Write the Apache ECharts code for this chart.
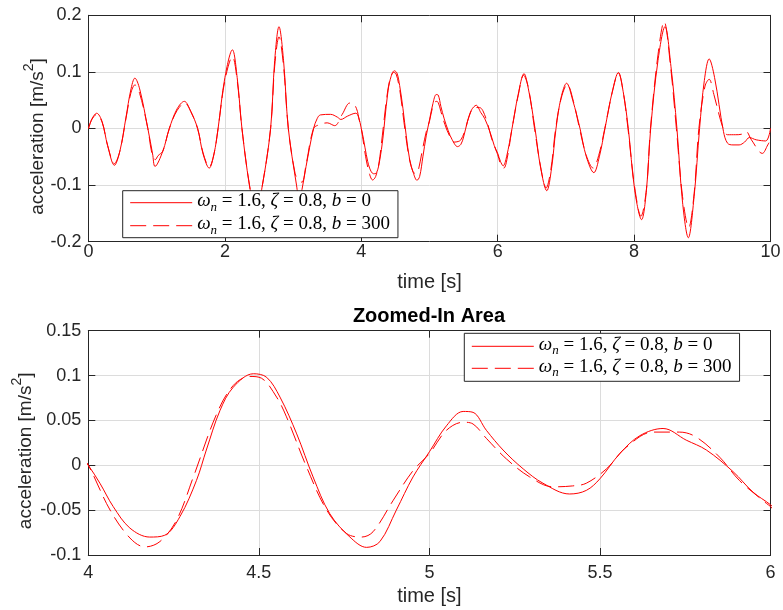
<!DOCTYPE html>
<html>
<head>
<meta charset="utf-8">
<script src="https://cdn.jsdelivr.net/npm/echarts@6/dist/echarts.min.js"></script>
<style>
  html, body { margin: 0; padding: 0; background: #ffffff; }
  #chart { width: 783px; height: 610px; }
</style>
</head>
<body>
<div id="chart"></div>
<script>
// Response without filter (b = 0): sample times [s] and acceleration [m/s^2]
const timeB0 = [
  0.00, 0.05, 0.12, 0.20, 0.28, 0.38, 0.46, 0.55, 0.62, 0.68, 0.75, 0.87, 0.94, 0.975, 1.09,
  1.185, 1.30, 1.405, 1.50, 1.60, 1.68, 1.77, 1.84, 1.90, 2.00, 2.11, 2.18, 2.25, 2.36, 2.455,
  2.55, 2.67, 2.73, 2.793, 2.86, 2.93, 3.05, 3.09, 3.13, 3.19, 3.30, 3.355, 3.40, 3.55, 3.65,
  3.70, 3.80, 3.92, 3.96, 4.00, 4.034, 4.073, 4.122, 4.18, 4.224, 4.269, 4.317, 4.346, 4.386,
  4.425, 4.484, 4.523, 4.562, 4.611, 4.659, 4.708, 4.767, 4.816, 4.855, 4.903, 4.952, 5.00,
  5.05, 5.099, 5.128, 5.167, 5.216, 5.275, 5.333, 5.411, 5.46, 5.50, 5.558, 5.617, 5.685,
  5.753, 5.812, 5.89, 5.949, 6.00, 6.04, 6.08, 6.13, 6.21, 6.30, 6.386, 6.45, 6.547, 6.63,
  6.72, 6.79, 6.855, 6.93, 7.01, 7.10, 7.207, 7.30, 7.41, 7.49, 7.573, 7.68, 7.77, 7.84,
  7.915, 8.01, 8.11, 8.18, 8.243, 8.35, 8.453, 8.54, 8.628, 8.71, 8.795, 8.88, 8.96, 9.03,
  9.10, 9.18, 9.31, 9.37, 9.45, 9.54, 9.62, 9.69, 9.79, 9.93, 10.00
];
const accB0 = [
  0, 0.017, 0.027, 0.012, -0.030, -0.065, -0.040, 0.020, 0.068, 0.089, 0.070, 0, -0.045, -0.067, -0.040,
  0, 0.035, 0.048, 0.030, 0, -0.045, -0.070, -0.045, 0, 0.090, 0.139, 0.090, 0, -0.100, -0.150,
  -0.100, 0, 0.120, 0.180, 0.120, 0, -0.100, -0.125, -0.108, -0.067, 0, 0.018, 0.024, 0.025, 0.020,
  0.016, 0.022, 0.027, 0.020, 0, -0.020, -0.046, -0.070, -0.080, -0.078, -0.057, -0.017, 0.017, 0.061,
  0.087, 0.102, 0.098, 0.076, 0.035, -0.013, -0.054, -0.080, -0.0915, -0.085, -0.050, -0.013, 0.015,
  0.044, 0.060, 0.059, 0.039, 0.017, -0.004, -0.020, -0.032, -0.028, -0.015, 0.013, 0.033, 0.041,
  0.028, 0.017, -0.007, -0.030, -0.044, -0.058, -0.066, -0.050, 0, 0.060, 0.097, 0.070, 0, -0.070,
  -0.110, -0.070, 0, 0.055, 0.080, 0.050, 0, -0.050, -0.078, -0.050, 0, 0.065, 0.099, 0.065,
  0, -0.110, -0.161, -0.110, 0, 0.120, 0.180, 0.110, 0, -0.130, -0.193, -0.120, 0, 0.085,
  0.123, 0.090, -0.005, -0.026, -0.029, -0.029, -0.024, -0.016, -0.020, -0.022, 0
];

// Response with filter (b = 300)
const timeB300 = [
  0.00, 0.05, 0.12, 0.20, 0.28, 0.38, 0.46, 0.55, 0.62, 0.68, 0.75, 0.87, 0.93, 0.98, 1.02, 1.09,
  1.185, 1.30, 1.41, 1.50, 1.60, 1.68, 1.77, 1.84, 1.90, 2.00, 2.11, 2.18, 2.25, 2.36, 2.455,
  2.55, 2.67, 2.73, 2.793, 2.86, 2.93, 3.03, 3.08, 3.13, 3.19, 3.30, 3.39, 3.50, 3.61, 3.72,
  3.83, 3.87, 3.93, 3.97, 4.00, 4.064, 4.122, 4.166, 4.21, 4.259, 4.308, 4.376, 4.425, 4.474,
  4.508, 4.552, 4.581, 4.64, 4.699, 4.757, 4.801, 4.835, 4.894, 4.952, 5.00, 5.05, 5.099,
  5.128, 5.167, 5.226, 5.294, 5.362, 5.42, 5.46, 5.519, 5.577, 5.655, 5.733, 5.782, 5.851,
  5.909, 5.988, 6.00, 6.04, 6.09, 6.14, 6.21, 6.30, 6.38, 6.45, 6.54, 6.63, 6.71, 6.78, 6.85,
  6.93, 7.02, 7.11, 7.20, 7.30, 7.40, 7.48, 7.57, 7.68, 7.77, 7.84, 7.91, 8.01, 8.10, 8.18,
  8.24, 8.35, 8.44, 8.53, 8.62, 8.71, 8.80, 8.88, 8.95, 9.04, 9.10, 9.17, 9.30, 9.37, 9.49,
  9.58, 9.64, 9.72, 9.88, 9.96, 10.00
];
const accB300 = [
  0, 0.016, 0.025, 0.011, -0.030, -0.062, -0.040, 0.018, 0.062, 0.077, 0.062, 0, -0.044, -0.055, -0.048, -0.040,
  0, 0.032, 0.045, 0.030, 0, -0.043, -0.068, -0.045, 0, 0.085, 0.127, 0.085, 0, -0.100, -0.150,
  -0.100, 0, 0.110, 0.162, 0.110, 0, -0.080, -0.090, -0.095, -0.064, 0, 0.007, 0.010, 0.005, 0.025,
  0.045, 0.045, 0.035, 0.015, 0, -0.050, -0.081, -0.091, -0.085, -0.061, -0.013, 0.057, 0.089, 0.099,
  0.097, 0.076, 0.054, -0.002, -0.050, -0.076, -0.080, -0.074, -0.039, -0.006, 0.013, 0.039, 0.048,
  0.046, 0.030, 0.007, -0.013, -0.024, -0.023, -0.020, -0.004, 0.020, 0.037, 0.037, 0.0315, 0.009,
  -0.017, -0.0425, -0.046, -0.062, -0.070, -0.052, 0, 0.058, 0.094, 0.072, 0, -0.068, -0.105, -0.072, 0,
  0.053, 0.078, 0.048, 0, -0.048, -0.070, -0.048, 0, 0.064, 0.098, 0.065, 0, -0.105, -0.155, -0.108,
  0, 0.130, 0.189, 0.115, 0, -0.120, -0.175, -0.115, 0, 0.075, 0.087, 0.060, 0.002, -0.011, -0.011,
  -0.010, -0.005, -0.020, -0.044, -0.029, -0.020
];

// Filter parameter shown in each legend entry
const seriesNames = ['b0', 'b300'];
const bValues = ['0', '300'];

// Axis ranges for the full record and the zoomed-in window
const fullRange = { xMin: 0, xMax: 10, xStep: 2, yMin: -0.2, yMax: 0.2, yStep: 0.1 };
const zoomRange = { xMin: 4, xMax: 6, xStep: 0.5, yMin: -0.1, yMax: 0.15, yStep: 0.05 };

const toPairs = (t, v) => t.map((x, i) => [x, v[i]]);
const dataB0 = toPairs(timeB0, accB0);
const dataB300 = toPairs(timeB300, accB300);

const AXIS_COLOR = '#262626';
const GRID_COLOR = '#dcdcdc';
const DASH = [16, 7];
const SANS = '"Liberation Sans", Arial, Helvetica, sans-serif';
const SERIF = '"Liberation Serif", "Times New Roman", serif';

// Math-style legend labels: italic symbols, lowered subscript
const legendRich = {
  i: { fontFamily: SERIF, fontStyle: 'italic', fontSize: 19, color: '#000', lineHeight: 15, verticalAlign: 'top' },
  r: { fontFamily: SERIF, fontSize: 19, color: '#000', lineHeight: 15, verticalAlign: 'top' },
  s: { fontFamily: SERIF, fontStyle: 'italic', fontSize: 13, color: '#000', lineHeight: 22, verticalAlign: 'bottom' }
};
const legendText = (name) => {
  const b = bValues[seriesNames.indexOf(name)];
  return '{i|ω}{s|n}{r| = 1.6, }{i|ζ}{r| = 0.8, }{i|b}{r| = ' + b + '}';
};

const yNameRich = {
  a: { fontFamily: SANS, fontSize: 19, color: AXIS_COLOR, lineHeight: 25, verticalAlign: 'bottom' },
  s: { fontFamily: SANS, fontSize: 14, color: AXIS_COLOR, verticalAlign: 'top' },
  e: { width: 16 }
};
const Y_NAME = '{a|acceleration [m/s}{s|2}{a|]}{e| }';

function mainX(idx, r, labelMargin, nameGap) {
  return {
    gridIndex: idx, type: 'value', position: 'bottom',
    min: r.xMin, max: r.xMax, interval: r.xStep,
    name: 'time [s]', nameLocation: 'middle', nameGap: nameGap,
    nameTextStyle: { fontFamily: SANS, fontSize: 20, color: AXIS_COLOR },
    axisLine: { show: true, onZero: false, lineStyle: { color: AXIS_COLOR, width: 1 } },
    axisTick: { show: true, inside: true, length: 7, lineStyle: { color: AXIS_COLOR } },
    axisLabel: { margin: labelMargin, fontFamily: SANS, fontSize: 18, color: AXIS_COLOR },
    splitLine: { show: true, lineStyle: { color: GRID_COLOR, width: 1 } }
  };
}
function boxX(idx, r) {
  return {
    gridIndex: idx, type: 'value', position: 'top',
    min: r.xMin, max: r.xMax, interval: r.xStep,
    axisLine: { show: true, onZero: false, lineStyle: { color: AXIS_COLOR, width: 1 } },
    axisTick: { show: true, inside: true, length: 7, lineStyle: { color: AXIS_COLOR } },
    axisLabel: { show: false }, splitLine: { show: false }
  };
}
function mainY(idx, r, nameGap) {
  return {
    gridIndex: idx, type: 'value', position: 'left',
    min: r.yMin, max: r.yMax, interval: r.yStep,
    name: Y_NAME, nameLocation: 'middle', nameGap: nameGap, nameMoveOverlap: false,
    nameTextStyle: { rich: yNameRich },
    axisLine: { show: true, onZero: false, lineStyle: { color: AXIS_COLOR, width: 1 } },
    axisTick: { show: true, inside: true, length: 7, lineStyle: { color: AXIS_COLOR } },
    axisLabel: { margin: 7, fontFamily: SANS, fontSize: 18, color: AXIS_COLOR },
    splitLine: { show: true, lineStyle: { color: GRID_COLOR, width: 1 } }
  };
}
function boxY(idx, r) {
  return {
    gridIndex: idx, type: 'value', position: 'right',
    min: r.yMin, max: r.yMax, interval: r.yStep,
    axisLine: { show: true, onZero: false, lineStyle: { color: AXIS_COLOR, width: 1 } },
    axisTick: { show: true, inside: true, length: 7, lineStyle: { color: AXIS_COLOR } },
    axisLabel: { show: false }, splitLine: { show: false }
  };
}
function lineSeries(name, data, xIdx, yIdx, dashed) {
  return {
    name: name, type: 'line', data: data,
    xAxisIndex: xIdx, yAxisIndex: yIdx,
    symbol: 'none', showSymbol: false, smooth: 0.35, clip: true,
    lineStyle: { color: '#ff0000', width: 1, type: dashed ? DASH : 'solid' },
    itemStyle: { color: '#ff0000' },
    emphasis: { disabled: true }
  };
}
function legendBox(left, top, gap, padding) {
  return {
    data: seriesNames, orient: 'vertical', left: left, top: top,
    itemWidth: 62, itemHeight: 14, itemGap: gap,
    padding: padding,
    backgroundColor: '#ffffff', borderColor: AXIS_COLOR, borderWidth: 1, borderRadius: 0,
    formatter: legendText,
    textStyle: { rich: legendRich },
    itemStyle: { color: 'rgba(0,0,0,0)', borderWidth: 0, opacity: 0 },
    lineStyle: { width: 1 },
    selectedMode: false
  };
}

const chart = echarts.init(document.getElementById('chart'), null, { renderer: 'canvas' });
chart.setOption({
  animation: false,
  backgroundColor: '#ffffff',
  grid: [
    { left: 88.5, right: 12.5, top: 15.3, height: 226.4, containLabel: false, outerBoundsMode: 'none' },
    { left: 88.3, right: 12.5, top: 330.7, height: 224.3, containLabel: false, outerBoundsMode: 'none' }
  ],
  xAxis: [
    mainX(0, fullRange, 1, 31), boxX(0, fullRange),
    mainX(1, zoomRange, 9, 31), boxX(1, zoomRange)
  ],
  yAxis: [
    mainY(0, fullRange, 41), boxY(0, fullRange),
    mainY(1, zoomRange, 53), boxY(1, zoomRange)
  ],
  legend: [
    legendBox(122.7, 190.7, 1, [1, 8, 1, 7]),
    legendBox(464.3, 333.3, 0, [2, 8, 2, 7])
  ],
  graphic: [{
    type: 'text', x: 429, y: 316,
    style: {
      text: 'Zoomed-In Area', textAlign: 'center', textVerticalAlign: 'middle',
      font: 'bold 20px ' + SANS, fill: '#000000'
    }
  }],
  series: [
    lineSeries(seriesNames[0], dataB0, 0, 0, false),
    lineSeries(seriesNames[1], dataB300, 0, 0, true),
    lineSeries(seriesNames[0], dataB0, 2, 2, false),
    lineSeries(seriesNames[1], dataB300, 2, 2, true)
  ]
});
</script>
</body>
</html>
